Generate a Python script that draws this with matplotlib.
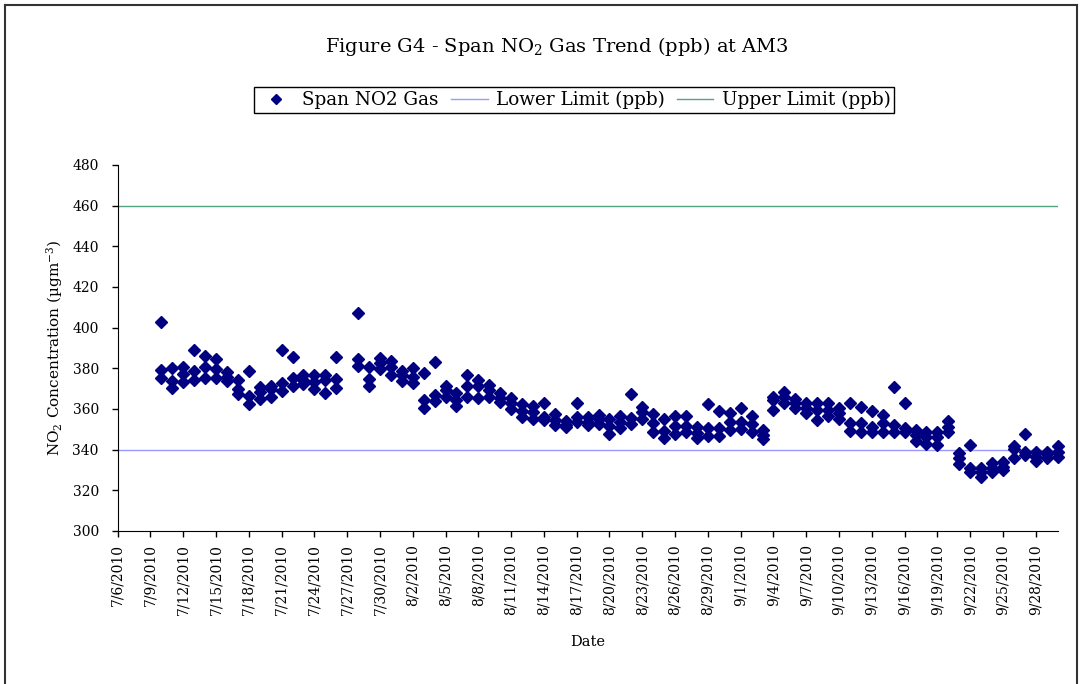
import numpy as np
import pandas as pd
import matplotlib
matplotlib.use("Agg")
import matplotlib.pyplot as plt
from matplotlib.lines import Line2D

plt.rcParams['font.family'] = ['DejaVu Serif']
plt.rcParams['mathtext.fontset'] = 'dejavuserif'

# daily span checks (three readings per day), 7/27 has no data
dates = (list(pd.date_range("2010-07-10", "2010-07-26"))
         + list(pd.date_range("2010-07-28", "2010-09-30")))

span_high = [403, 380, 380.5, 389, 385.9, 384.7, 378.3, 374.1, 378.8, 371, 371.3, 389, 385.6, 376.7, 376.7, 376.7, 385.6,
             407.1, 380.8, 384.9, 383.6, 378.7, 380, 377.6, 383.3, 371.5, 367.7, 376.7, 374.3, 371.8, 367.7, 365.3, 362.5,
             361.6, 363.1, 357.5, 354.1, 363.1, 355.9, 357, 355.1, 356.6, 367.4, 361.1, 357.5, 354.9, 356.6, 356.6, 351,
             362.5, 359.2, 358.2, 360.3, 356.6, 349.7, 366.1, 368.2, 364.8, 363.1, 363.1, 363.1, 360.5, 363.1, 361.1, 359.2,
             357, 370.7, 362.8, 349.5, 348.9, 348.7, 354, 338.6, 342.5, 330.8, 333.6, 333.9, 342, 347.7, 339, 339, 342]
span_mid = [379, 374, 377.4, 378.7, 380.5, 379.8, 375.9, 369.8, 366.4, 368.5, 369.7, 372.6, 375.2, 374.3, 373.4, 374.1, 374.6,
            384.6, 374.8, 382.8, 380.8, 376.7, 375.6, 364.4, 366.9, 369.3, 364.4, 371.5, 371.5, 369.3, 365.3, 362.8, 359.2,
            358.7, 355.9, 354.6, 352.1, 355.9, 353.7, 355, 351.8, 353.7, 355.4, 358.7, 353.3, 349.3, 351.8, 351.8, 348,
            350.5, 350.5, 353.7, 353.7, 352.6, 347.2, 364.4, 366.1, 362.8, 360.6, 359.5, 359.5, 357.9, 353, 353, 351,
            353, 352.1, 350.5, 347.4, 346.1, 346.2, 351.2, 336.1, 330.8, 329, 331.2, 331.4, 340.2, 339, 336.5, 337.9, 339]
span_low = [375, 370.5, 373.1, 374.1, 375.4, 375.1, 373.6, 367.2, 362.5, 365.1, 366.1, 368.9, 371.5, 372.1, 369.8, 368, 370.2,
            381.2, 371.5, 379.5, 376.7, 373.9, 372.6, 360.3, 364.1, 366.1, 361.6, 366.1, 365.3, 366.1, 363.3, 359.8, 356.2,
            355.1, 354.6, 352.1, 351, 353.7, 352.1, 352.6, 347.7, 350.5, 352.5, 354.9, 348.5, 345.9, 347.7, 348.5, 345.6,
            346.9, 346.9, 349.7, 350, 348.9, 345.1, 359.5, 362.8, 360.3, 357.9, 354.6, 356.6, 355.2, 349.3, 348.9, 348.9,
            348.9, 348.9, 348.9, 344.4, 343, 342.2, 348.7, 332.9, 329, 326.7, 329.2, 330, 335.8, 337.4, 334.6, 335.8, 336.2]

lower_limit = 340
upper_limit = 460

fig = plt.figure(figsize=(10.83, 6.84), dpi=100)
ax = fig.add_axes([0.1086, 0.2237, 0.8680, 0.5351])

x_all = dates * 3
y_all = span_high + span_mid + span_low
ax.plot(x_all, y_all, linestyle='none', marker='D', markersize=5.8,
        color='#000080', clip_on=False, zorder=3)
ax.axhline(lower_limit, color='#9999FF', lw=1)
ax.axhline(upper_limit, color='#52A57F', lw=1)

ax.set_xlim(pd.Timestamp("2010-07-06"), pd.Timestamp("2010-09-30"))
ax.set_ylim(300, 480)
ax.set_yticks(np.arange(300, 481, 20))
ticks = pd.date_range("2010-07-06", "2010-09-28", freq="3D")
ax.set_xticks(ticks)
ax.set_xticklabels([f"{d.month}/{d.day}/{d.year}" for d in ticks], rotation=90)

for s in ['top', 'right']:
    ax.spines[s].set_visible(False)
ax.tick_params(direction='out', length=4.5, width=1, labelsize=10)
ax.tick_params(axis='y', pad=9)
ax.tick_params(axis='x', pad=5)

ax.set_xlabel("Date", fontsize=10.5, labelpad=14)
ax.set_ylabel("NO$_2$ Concentration (µgm$^{-3}$)", fontsize=11, labelpad=5)

fig.text(0.5145, 0.932, "Figure G4 - Span NO$_2$ Gas Trend (ppb) at AM3",
         ha='center', va='center', fontsize=14)

handles = [Line2D([], [], linestyle='none', marker='D', markersize=5, color='#000080'),
           Line2D([], [], color='#9999FF', lw=1),
           Line2D([], [], color='#52A57F', lw=1)]
leg = fig.legend(handles, ['Span NO2 Gas', 'Lower Limit (ppb)', 'Upper Limit (ppb)'],
                 loc='center', bbox_to_anchor=(0.530, 0.854), ncol=3, fontsize=13.2,
                 frameon=True, fancybox=False, edgecolor='black', framealpha=1,
                 borderpad=0.2, handlelength=2.0, handletextpad=0.45, columnspacing=0.65)
leg.get_frame().set_linewidth(1)

# outer chart border
fig.add_artist(Line2D([0.0045, 0.0045], [0, 0.992], color='#333333', lw=1.5, transform=fig.transFigure))
fig.add_artist(Line2D([0.0045, 0.994], [0.992, 0.992], color='#333333', lw=1.5, transform=fig.transFigure))
fig.add_artist(Line2D([0.994, 0.994], [0, 0.992], color='#333333', lw=1.5, transform=fig.transFigure))

fig.savefig("out.png", dpi=100)
